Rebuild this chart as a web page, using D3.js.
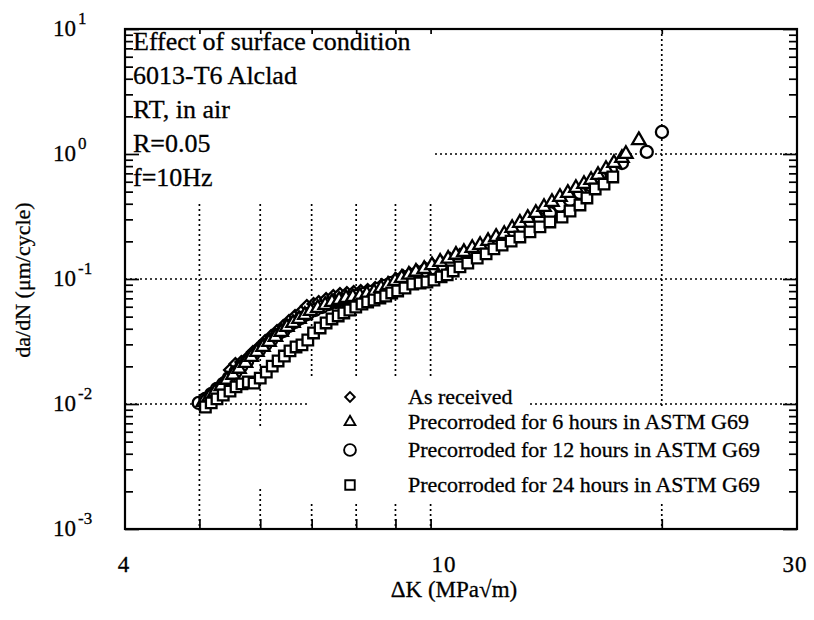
<!DOCTYPE html>
<html>
<head>
<meta charset="utf-8">
<script src="https://cdn.jsdelivr.net/npm/d3@7"></script>
<style>
  html, body { margin: 0; padding: 0; background: #fff; }
  svg { display: block; }
  text { font-family: "Liberation Serif", "Times New Roman", serif; fill: #000; stroke: #000; stroke-width: 0.3px; }
</style>
</head>
<body>
<svg id="chart" width="814" height="620"></svg>
<script>
// Fatigue crack growth data: ΔK (MPa√m) vs da/dN (µm/cycle)
const asReceivedK = [5.01,5.09,5.18,5.27,5.37,5.48,5.57,5.67,5.77,5.87,5.98,6.09,6.20,6.31,6.43,6.54,6.66,6.78,6.90,7.04,7.15,7.31,7.47,7.62,7.78,7.94,8.11,8.28,8.47,8.64,8.82,9.01,9.20,9.40,9.60,9.84,10.07,10.32,10.60,10.92];
const asReceivedRate = [0.0100,0.0110,0.0120,0.0132,0.0147,0.0187,0.0209,0.0217,0.0233,0.0261,0.0286,0.0319,0.0350,0.0384,0.0421,0.0461,0.0506,0.0545,0.0608,0.0631,0.0655,0.0692,0.0731,0.0759,0.0773,0.0787,0.0802,0.0817,0.0847,0.0895,0.0929,0.100,0.106,0.110,0.116,0.122,0.129,0.137,0.145,0.156];

const corr6hK = [5.06,5.15,5.24,5.34,5.43,5.53,5.63,5.74,5.84,5.94,6.05,6.16,6.28,6.39,6.50,6.62,6.74,6.86,6.98,7.13,7.29,7.44,7.60,7.76,7.92,8.09,8.26,8.44,8.62,8.80,8.99,9.17,9.37,9.57,9.81,10.04,10.29,10.54,10.79,11.05,11.33,11.60,11.88,12.17,12.47,12.77,13.07,13.38,13.71,14.05,14.39,14.74,15.09,15.46,15.84,16.18,16.52,16.92,17.33,17.75,17.96,18.67];
const corr6hRate = [0.0104,0.0114,0.0125,0.0139,0.0156,0.0171,0.0191,0.0213,0.0238,0.0261,0.0286,0.0313,0.0344,0.0377,0.0413,0.0445,0.0479,0.0515,0.0555,0.0586,0.0619,0.0655,0.0679,0.0705,0.0718,0.0731,0.0759,0.0787,0.0847,0.0895,0.0964,0.102,0.108,0.114,0.120,0.129,0.137,0.145,0.156,0.164,0.177,0.187,0.201,0.217,0.229,0.256,0.281,0.308,0.337,0.377,0.413,0.453,0.488,0.535,0.575,0.619,0.679,0.759,0.847,0.929,1.00,1.29];

const corr12hK = [4.99,5.09,5.18,5.27,5.37,5.46,5.57,5.67,5.77,5.87,5.98,6.09,6.20,6.31,6.43,6.54,6.66,6.78,6.92,7.07,7.22,7.37,7.53,7.69,7.85,8.01,8.19,8.37,8.54,8.72,8.90,9.12,9.34,9.57,9.81,10.04,10.32,10.60,10.89,11.18,11.50,11.81,12.14,12.47,12.80,13.15,13.51,13.88,14.30,14.74,15.19,15.65,16.13,16.62,17.17,17.75,19.12,20.01];
const corr12hRate = [0.0102,0.0110,0.0120,0.0132,0.0145,0.0161,0.0180,0.0201,0.0221,0.0247,0.0270,0.0297,0.0325,0.0357,0.0384,0.0421,0.0453,0.0488,0.0525,0.0565,0.0597,0.0631,0.0655,0.0679,0.0705,0.0731,0.0759,0.0787,0.0832,0.0879,0.0929,0.0982,0.104,0.110,0.116,0.122,0.129,0.137,0.147,0.159,0.168,0.180,0.194,0.213,0.229,0.251,0.275,0.302,0.337,0.384,0.429,0.488,0.565,0.655,0.745,0.847,1.04,1.50];

const corr24hK = [5.09,5.18,5.27,5.37,5.48,5.58,5.68,5.79,5.89,6.00,6.11,6.22,6.33,6.45,6.56,6.68,6.80,6.92,7.04,7.18,7.31,7.44,7.58,7.71,7.85,7.99,8.14,8.28,8.44,8.59,8.74,8.90,9.06,9.26,9.48,9.69,9.89,10.10,10.32,10.51,10.70,10.92,11.18,11.50,11.81,12.09,12.39,12.73,13.07,13.47,13.88,14.30,14.83,15.19,15.65,15.98,16.38,16.82,17.27];
const corr24hRate = [0.00946,0.0102,0.0110,0.0118,0.0127,0.0137,0.0145,0.0150,0.0147,0.0161,0.0180,0.0201,0.0221,0.0242,0.0266,0.0286,0.0297,0.0325,0.0370,0.0406,0.0445,0.0479,0.0506,0.0535,0.0565,0.0597,0.0631,0.0655,0.0679,0.0705,0.0731,0.0773,0.0802,0.0847,0.0912,0.0929,0.0946,0.0982,0.104,0.108,0.116,0.125,0.134,0.147,0.159,0.174,0.187,0.201,0.217,0.238,0.261,0.286,0.313,0.350,0.391,0.445,0.525,0.575,0.655];

const seriesNames = ["As received", "Precorroded for 6 hours in ASTM G69", "Precorroded for 12 hours in ASTM G69", "Precorroded for 24 hours in ASTM G69"];
const xTickValues = [4, 10, 30];
const xTickLabels = ["4", "10", "30"];
const xGridValues = [5, 6, 7, 8, 9, 10, 20];
const yGridValues = [0.01, 0.1, 1];
const yDecades = [-3, -2, -1, 0, 1];
const noteLines = ["Effect of surface condition", "6013-T6 Alclad", "RT, in air", "R=0.05", "f=10Hz"];

const svg = d3.select("#chart");
const x = d3.scaleLog().domain([4, 30]).range([125, 797]);
const y = d3.scaleLog().domain([1e-3, 1e1]).range([529, 29]);

// dotted grid
const grid = svg.append("g")
  .attr("stroke", "#000").attr("stroke-width", 1.7).attr("stroke-dasharray", "2,3");
grid.selectAll(".gv").data(xGridValues).join("line")
  .attr("x1", d => x(d)).attr("x2", d => x(d))
  .attr("y1", y(10)).attr("y2", y(1e-3));
grid.selectAll(".gh").data(yGridValues).join("line")
  .attr("y1", d => y(d)).attr("y2", d => y(d))
  .attr("x1", x(4)).attr("x2", x(30));

// white backing behind the note block and the legend
const blank = svg.append("g").attr("fill", "#fff");
blank.append("rect").attr("x", 126).attr("y", 30).attr("width", 306).attr("height", 174);
blank.append("rect").attr("x", 308).attr("y", 376).attr("width", 221).attr("height", 31);
blank.append("rect").attr("x", 300).attr("y", 407).attr("width", 488).attr("height", 95);
blank.append("rect").attr("x", 255).attr("y", 428).attr("width", 15).attr("height", 60);

// axis ticks
const minorY = [];
yDecades.slice(0, -1).forEach(e => { for (let m = 2; m <= 9; m++) minorY.push(m * Math.pow(10, e)); });
const majorY = yDecades.map(e => Math.pow(10, e));

function styleAxis(g) {
  g.select(".domain").remove();
  g.selectAll(".tick line").attr("stroke", "#000").attr("stroke-width", 1.7);
  g.selectAll(".tick text").remove();
}
svg.append("g").attr("transform", "translate(125,0)")
  .call(d3.axisRight(y).tickValues(minorY).tickSize(8).tickFormat("")).call(styleAxis);
svg.append("g").attr("transform", "translate(125,0)")
  .call(d3.axisRight(y).tickValues(majorY).tickSize(14).tickFormat("")).call(styleAxis);
svg.append("g").attr("transform", "translate(797,0)")
  .call(d3.axisLeft(y).tickValues(minorY).tickSize(8).tickFormat("")).call(styleAxis);
svg.append("g").attr("transform", "translate(797,0)")
  .call(d3.axisLeft(y).tickValues(majorY).tickSize(14).tickFormat("")).call(styleAxis);
svg.append("g").attr("transform", "translate(0,529)")
  .call(d3.axisTop(x).tickValues(xGridValues).tickSize(10).tickFormat("")).call(styleAxis);
svg.append("g").attr("transform", "translate(0,29)")
  .call(d3.axisBottom(x).tickValues(xGridValues).tickSize(5).tickFormat("")).call(styleAxis);

// frame
svg.append("rect")
  .attr("x", x(4)).attr("y", y(10))
  .attr("width", x(30) - x(4)).attr("height", y(1e-3) - y(10))
  .attr("fill", "none").attr("stroke", "#000").attr("stroke-width", 2.2);

// y tick labels as powers of ten
const yLab = svg.append("g");
yDecades.forEach(e => {
  const t = yLab.append("text").attr("x", 53).attr("y", y(Math.pow(10, e)) + 7).attr("font-size", 23);
  t.append("tspan").text("10");
  t.append("tspan").attr("font-size", 17).attr("dx", 2).attr("dy", -12).text(String(e));
});

// x tick labels
const xAnchor = ["middle", "start", "middle"];
const xNudge = [-1, 1, -2];
svg.append("g").selectAll("text").data(xTickValues).join("text")
  .attr("x", (d, i) => x(d) + xNudge[i]).attr("y", 572)
  .attr("text-anchor", (d, i) => xAnchor[i]).attr("font-size", 23)
  .attr("letter-spacing", 1)
  .text((d, i) => xTickLabels[i]);

// axis titles
svg.append("text").attr("x", 454).attr("y", 597).attr("text-anchor", "middle")
  .attr("font-size", 23).text("ΔK (MPa√m)");
svg.append("text").attr("transform", "translate(30,280) rotate(-90)")
  .attr("text-anchor", "middle").attr("font-size", 22).text("da/dN (μm/cycle)");

// note block
svg.append("g").selectAll("text").data(noteLines).join("text")
  .attr("x", 133).attr("y", (d, i) => 50 + i * 34)
  .attr("font-size", 26).text(d => d);

// markers
const diamond = d3.symbol().type(d3.symbolSquare).size(70);
const triangle = d3.symbol().type(d3.symbolTriangle).size(78);
const circle = d3.symbol().type(d3.symbolCircle).size(115);
const square = d3.symbol().type(d3.symbolSquare).size(112);

const series = [
  { k: asReceivedK, r: asReceivedRate, path: diamond(), rot: 45 },
  { k: corr12hK, r: corr12hRate, path: circle(), rot: 0 },
  { k: corr6hK, r: corr6hRate, path: triangle(), rot: 0 },
  { k: corr24hK, r: corr24hRate, path: square(), rot: 0 }
];
series.forEach(s => {
  const pts = s.k.map((k, i) => [k, s.r[i]]);
  svg.append("g").selectAll("path").data(pts).join("path")
    .attr("d", s.path)
    .attr("transform", d => `translate(${x(d[0])},${y(d[1])}) rotate(${s.rot})`)
    .attr("fill", "#fff").attr("stroke", "#000").attr("stroke-width", 2.3);
});

// legend
const legendSymbols = [
  { path: d3.symbol().type(d3.symbolSquare).size(46)(), rot: 45 },
  { path: d3.symbol().type(d3.symbolTriangle).size(50)(), rot: 0 },
  { path: d3.symbol().type(d3.symbolCircle).size(110)(), rot: 0 },
  { path: d3.symbol().type(d3.symbolSquare).size(90)(), rot: 0 }
];
const legendRowY = [397, 422, 450, 485];
const lg = svg.append("g");
seriesNames.forEach((name, i) => {
  lg.append("path").attr("d", legendSymbols[i].path)
    .attr("transform", `translate(350,${legendRowY[i]}) rotate(${legendSymbols[i].rot})`)
    .attr("fill", "#fff").attr("stroke", "#000").attr("stroke-width", 1.9);
  lg.append("text").attr("x", 408).attr("y", legendRowY[i] + 7)
    .attr("font-size", 22).text(name);
});
</script>
</body>
</html>
